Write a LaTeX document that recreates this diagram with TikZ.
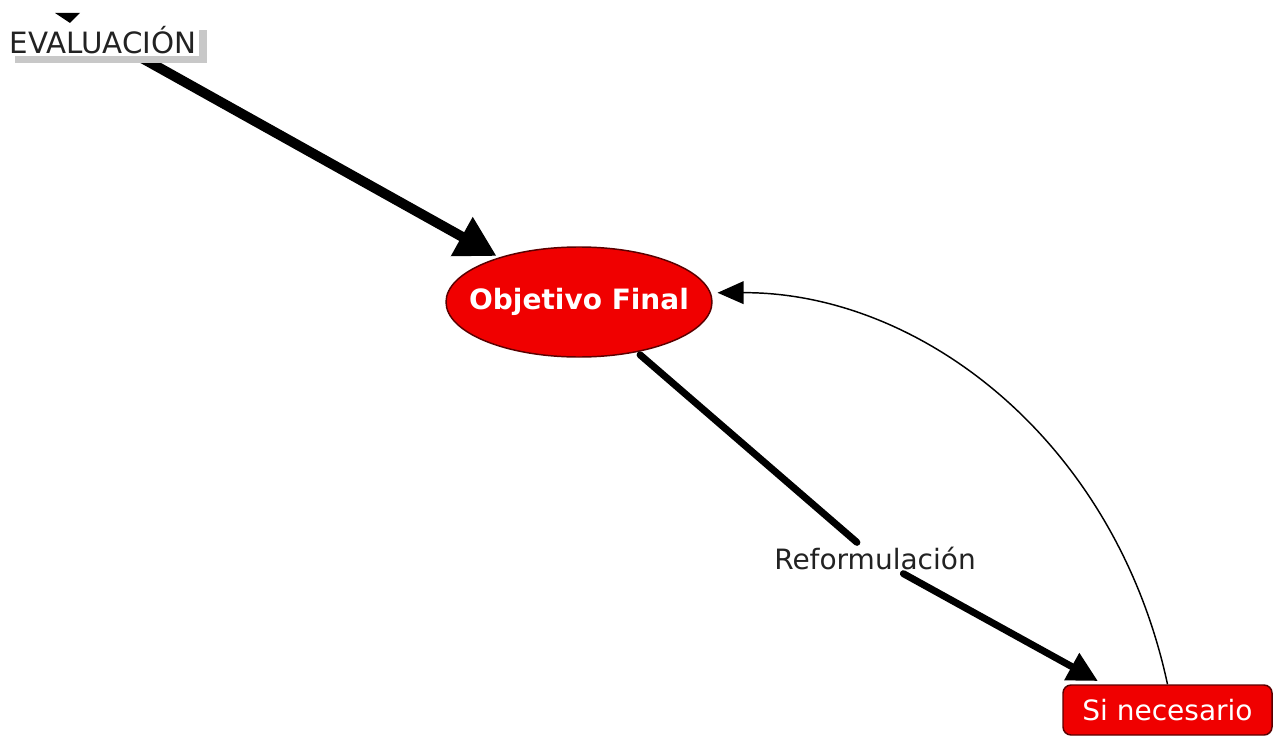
\documentclass[tikz,border=0pt]{standalone}
\usepackage{fontspec}
\setmainfont{DejaVu Sans}
\usetikzlibrary{arrows.meta}
\usetikzlibrary{shapes}

\definecolor{conceptred}{RGB}{240,0,0}
\definecolor{conceptline}{RGB}{90,0,0}
\definecolor{shadowgray}{RGB}{200,200,200}
\definecolor{labelgray}{RGB}{34,34,34}

\begin{document}
\begin{tikzpicture}[x=0.75pt,y=0.75pt,yscale=-1,xscale=1,
  bigtext/.style={font=\fontsize{21}{25}\selectfont},
  concept/.style={bigtext, fill=conceptred, draw=conceptline, line width=1.1pt, text=white},
  linklabel/.style={bigtext, text=labelgray, inner sep=3pt},
  thickarrow/.style={line width=7.5pt, -{Triangle[length=30pt,width=31.5pt]}},
  linkarrow/.style={line width=5.25pt, line cap=round, -{Triangle[length=22.5pt,width=22pt]}},
  backarrow/.style={line width=1.1pt, -{Triangle[length=19.5pt,width=17pt]}}]
\useasboundingbox (0,0) rectangle (1274,738);

%Shape: Ellipse [id:objetivo]
\node [concept, ellipse, inner xsep=-12pt, inner ysep=0pt, minimum width=199.5pt, minimum height=82.5pt, font=\fontsize{21}{25}\selectfont\bfseries] (obj) at (579,302) {Objetivo Final};
%Shape: Rounded Rect [id:necesario]
\node [concept, rectangle, rounded corners=6pt, minimum width=156.75pt, minimum height=37.5pt] (si) at (1167.5,710) {Si necesario};
% Text Node
\node [linklabel] (reform) at (875,558) {Reformulación};
\coordinate (evalout) at (140,57);

%Straight Lines [id:evaluacion-objetivo]
\draw [thickarrow, shorten >=2pt] (evalout) -- (obj);
%Straight Lines [id:objetivo-necesario]
\draw [line width=5.25pt, line cap=round, shorten <=3pt] (obj) -- (reform);
\draw [linkarrow, shorten >=5pt] (reform) -- (si.158);
%Curve Lines [id:necesario-objetivo]
\draw [backarrow, shorten >=5pt] (si.north) .. controls (1115,440) and (920,292) .. (obj.4);

%Shape: Triangle [id:cut-arrow]
\fill (55,13) -- (80,13) -- (70,23) -- cycle ;
%Shape: Rectangle [id:shadow]
\fill [shadowgray] (15,30) rectangle (207,63);
% Text Node
\node [font=\fontsize{22}{26}\selectfont, fill=white, text=labelgray, inner sep=0pt, minimum width=144pt, minimum height=24.75pt, text depth=0pt] (eval) at (103,39.5) {EVALUACIÓN};

\end{tikzpicture}
\end{document}
